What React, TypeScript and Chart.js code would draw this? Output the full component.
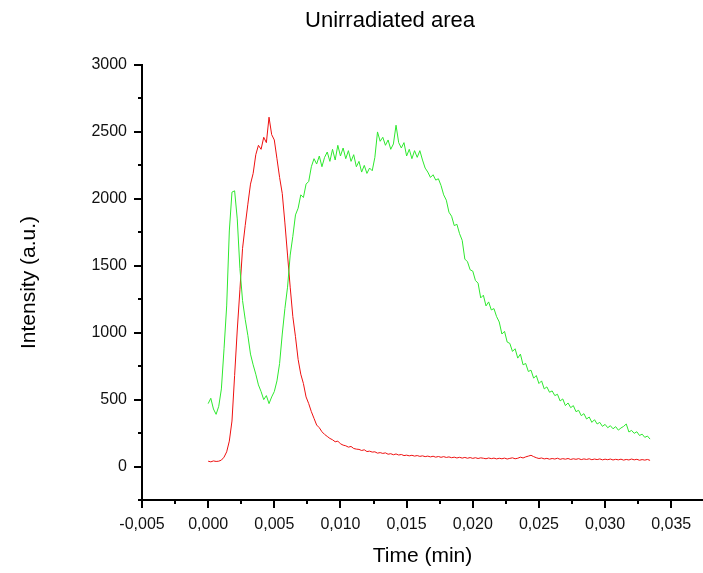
import { useEffect, useRef } from 'react';
import { Chart, registerables } from 'chart.js';

Chart.register(...registerables);

const TITLE = 'Unirradiated area';
const X_TITLE = 'Time (min)';
const Y_TITLE = 'Intensity (a.u.)';

// sampling grid of both traces (minutes)
const TIME_START = 0;
const TIME_STEP = 0.0002;

// red trace
const RED_VALUES = [
  40, 35, 42, 38, 40, 48, 70, 110, 190, 340,
  680, 1020, 1320, 1630, 1800, 1960, 2110, 2190, 2330, 2400,
  2370, 2460, 2420, 2610, 2480, 2440, 2300, 2160, 2040, 1820,
  1580, 1340, 1120, 970, 800, 690, 620, 520, 470, 410,
  360, 310, 290, 260, 240, 225, 210, 200, 185, 190,
  170, 160, 155, 145, 150, 135, 130, 128, 120, 125,
  112, 115, 108, 110, 100, 104, 98, 102, 92, 96,
  88, 94, 86, 90, 82, 85, 80, 84, 78, 82,
  76, 80, 74, 78, 72, 77, 70, 75, 69, 74,
  68, 72, 66, 70, 64, 69, 63, 68, 62, 67,
  61, 66, 60, 65, 62, 58, 64, 59, 63, 57,
  62, 58, 63, 56, 61, 65, 58, 62, 70, 64,
  72, 78, 84, 74, 66, 60, 64, 57, 61, 55,
  60, 56, 62, 54, 59, 55, 60, 53, 58, 54,
  59, 52, 57, 53, 58, 51, 56, 52, 57, 50,
  55, 51, 56, 49, 54, 50, 55, 48, 53, 49,
  56, 50, 54, 47, 52, 48, 53, 46,
];

// green trace
const GREEN_VALUES = [
  470, 510, 430, 390, 450, 580, 880, 1200, 1760, 2050,
  2060, 1850, 1480, 1240, 1100, 980, 840, 760, 690, 610,
  560, 500, 530, 470, 520, 560, 640, 770, 990, 1180,
  1340, 1580, 1720, 1880, 1930, 2030, 2010, 2110, 2130, 2240,
  2300, 2260, 2320, 2240, 2310, 2350, 2280, 2370, 2290, 2400,
  2320, 2380, 2300, 2360, 2280, 2330, 2240, 2280, 2200, 2250,
  2190, 2230, 2210, 2310, 2500, 2430, 2460, 2400, 2440, 2370,
  2410, 2550, 2420, 2380, 2420, 2320, 2370, 2300, 2360, 2310,
  2360, 2290, 2230, 2200, 2160, 2180, 2140, 2150, 2100, 2030,
  1990, 1900, 1870, 1800, 1810, 1740, 1690, 1550, 1530, 1470,
  1460, 1390, 1370, 1260, 1280, 1200, 1230, 1170, 1180, 1120,
  1080, 990, 1010, 930, 920, 860, 880, 810, 840, 760,
  770, 710, 720, 660, 680, 620, 640, 580, 595, 555,
  565, 530, 540, 490, 505, 455, 475, 440, 455, 410,
  420, 380, 395, 355, 370, 330, 350, 318, 330, 300,
  315, 290, 305, 282, 298, 272, 288, 300, 318, 258,
  270, 248, 260, 232, 242, 218, 228, 205,
];

const X_TICKS = [-0.005, 0, 0.005, 0.01, 0.015, 0.02, 0.025, 0.03, 0.035];
const X_MINOR_TICKS = [-0.0025, 0.0025, 0.0075, 0.0125, 0.0175, 0.0225, 0.0275, 0.0325];
const Y_TICKS = [0, 500, 1000, 1500, 2000, 2500, 3000];
const Y_MINOR_TICKS = [-250, 250, 750, 1250, 1750, 2250, 2750];

const X_MIN = -0.005;
const X_MAX = 0.0374;
const Y_MIN = -250;
const Y_MAX = 3000;

const FONT = '"Liberation Sans", Arial, sans-serif';

const minorTicksPlugin = {
  id: 'minorTicks',
  afterDraw(chart: any) {
    const { ctx, chartArea, scales } = chart;
    ctx.save();
    ctx.strokeStyle = '#000';
    ctx.lineWidth = 2;
    ctx.beginPath();
    Y_MINOR_TICKS.forEach((v) => {
      const y = Math.round(scales.y.getPixelForValue(v));
      ctx.moveTo(chartArea.left - 4, y);
      ctx.lineTo(chartArea.left, y);
    });
    X_MINOR_TICKS.forEach((v) => {
      const x = Math.round(scales.x.getPixelForValue(v));
      ctx.moveTo(x, chartArea.bottom);
      ctx.lineTo(x, chartArea.bottom + 4);
    });
    ctx.stroke();
    ctx.restore();
  },
};

const titlePlugin = {
  id: 'plotTitle',
  afterDraw(chart: any) {
    const { ctx } = chart;
    ctx.save();
    ctx.fillStyle = '#000';
    ctx.font = `22px ${FONT}`;
    ctx.textAlign = 'center';
    ctx.textBaseline = 'middle';
    ctx.fillText(TITLE, 390, 20.5);
    ctx.restore();
  },
};

const toPoints = (vals: number[]) =>
  vals.map((v, i) => ({ x: TIME_START + i * TIME_STEP, y: v }));

export default function App() {
  const ref = useRef<HTMLCanvasElement | null>(null);

  useEffect(() => {
    if (!ref.current) return;
    const chart = new Chart(ref.current, {
      type: 'line',
      data: {
        datasets: [
          {
            label: 'green',
            data: toPoints(GREEN_VALUES),
            borderColor: '#2ee82e',
            borderWidth: 1,
            pointRadius: 0,
            tension: 0,
            fill: false,
          },
          {
            label: 'red',
            data: toPoints(RED_VALUES),
            borderColor: '#ee1010',
            borderWidth: 1,
            pointRadius: 0,
            tension: 0,
            fill: false,
          },
        ],
      },
      plugins: [minorTicksPlugin, titlePlugin],
      options: {
        animation: false,
        responsive: false,
        layout: { padding: { left: 0, right: 0, top: 65, bottom: 0 } },
        plugins: {
          legend: { display: false },
          tooltip: { enabled: false },
          title: { display: false },
        },
        scales: {
          x: {
            type: 'linear',
            min: X_MIN,
            max: X_MAX,
            afterBuildTicks: (scale: any) => {
              scale.ticks = X_TICKS.map((v) => ({ value: v }));
            },
            afterFit: (scale: any) => {
              scale.height = 73;
            },
            grid: {
              drawOnChartArea: false,
              drawTicks: true,
              tickLength: 8,
              tickWidth: 2,
              tickColor: '#000',
              color: '#000',
              lineWidth: 2,
            },
            border: { display: true, color: '#000', width: 2 },
            ticks: {
              autoSkip: false,
              maxRotation: 0,
              padding: 7,
              color: '#111',
              font: { family: FONT, size: 16 },
              callback: (v: any) => Number(v).toFixed(3).replace('.', ','),
            },
            title: {
              display: true,
              text: X_TITLE,
              color: '#000',
              font: { family: FONT, size: 21, lineHeight: 1.2 },
              padding: { top: 0, bottom: 4 },
            },
          },
          y: {
            type: 'linear',
            min: Y_MIN,
            max: Y_MAX,
            afterBuildTicks: (scale: any) => {
              scale.ticks = Y_TICKS.map((v) => ({ value: v }));
            },
            afterFit: (scale: any) => {
              scale.width = 142;
            },
            grid: {
              drawOnChartArea: false,
              drawTicks: true,
              tickLength: 8,
              tickWidth: 2,
              tickColor: '#000',
              color: '#000',
              lineWidth: 2,
            },
            border: { display: true, color: '#000', width: 2 },
            ticks: {
              autoSkip: false,
              padding: 7,
              color: '#111',
              font: { family: FONT, size: 16 },
              callback: (v: any) => String(v),
            },
            title: {
              display: true,
              text: Y_TITLE,
              color: '#000',
              font: { family: FONT, size: 21, lineHeight: 1.2 },
              padding: { top: 16.4, bottom: 0 },
            },
          },
        },
      },
    } as any);
    return () => chart.destroy();
  }, []);

  return (
    <div style={{ position: 'fixed', left: 0, top: 0, width: 703, height: 573, background: '#fff' }}>
      <canvas ref={ref} width={703} height={573} style={{ display: 'block' }} />
    </div>
  );
}
